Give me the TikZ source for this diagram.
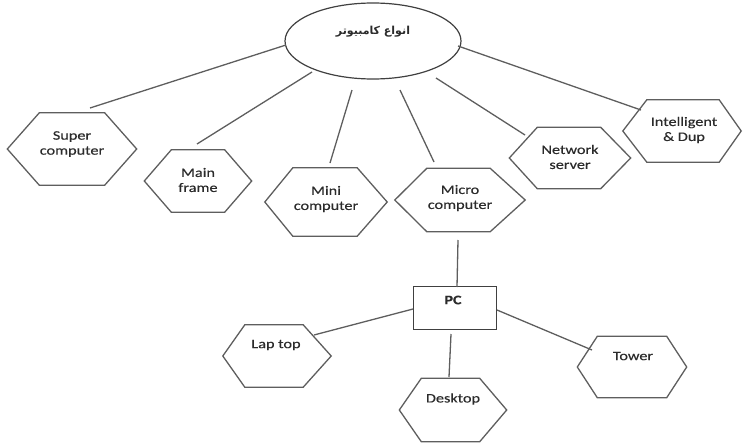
\documentclass[tikz,border=0pt]{standalone}
\usepackage{fontspec}
\setmainfont{Carlito}
\newfontfamily\widefont[FakeStretch=1.25,FakeBold=0.4]{Carlito}
\newfontfamily\arabicfont[Script=Arabic]{DejaVu Sans}
\TeXXeTstate=1
\usetikzlibrary{shapes.geometric}
\definecolor{edgegray}{HTML}{5E5E5E}
\definecolor{inkgray}{HTML}{2B2B2B}
\tikzset{
  hexcell/.style={rectangle, draw=none, inner sep=0pt},
  hexline/.style={draw=edgegray, line width=1.3pt, line join=miter},
  hextext/.style={font=\widefont\fontsize{13}{15}\selectfont, text=inkgray, align=center, inner sep=0pt},
  link/.style={draw=edgegray, line width=1.3pt},
  rootshape/.style={ellipse, draw=inkgray!90, line width=1.2pt, inner sep=0pt,
                    minimum width=176pt, minimum height=76pt},
  pcbox/.style={rectangle, draw=inkgray!90, line width=1.2pt, inner sep=0pt,
                minimum width=83pt, minimum height=43pt}
}
% hexagon outline around a named rectangular cell: #2 = left tip, #3 = right tip
\newcommand\hexoutline[3]{%
  \draw[hexline] (#1.west) -- ([xshift=#2]#1.north west) -- ([xshift=-#3]#1.north east)
    -- (#1.east) -- ([xshift=-#3]#1.south east) -- ([xshift=#2]#1.south west) -- cycle;}
\begin{document}
\begin{tikzpicture}[x=1pt, y=-1pt]
\useasboundingbox (0,0) rectangle (744,442);

% root
\node[rootshape] (root) at (373,41) {};
\node[font=\arabicfont\bfseries\fontsize{11}{13}\selectfont, text=inkgray] (root-t) at (373,32) {\beginR انواع كامبيوتر\endR};

% first level
\node[hexcell, minimum width=129pt, minimum height=72pt] (sup) at (72,149) {};
\hexoutline{sup}{32pt}{32pt}
\node[hextext] (sup-t) at (72,144) {Super\\computer};

\node[hexcell, minimum width=107pt, minimum height=62pt] (mainf) at (198,181) {};
\hexoutline{mainf}{27pt}{27pt}
\node[hextext] (mainf-t) at (198,180) {Main\\frame};

\node[hexcell, minimum width=122pt, minimum height=68pt] (mini) at (326,202) {};
\hexoutline{mini}{28pt}{30pt}
\node[hextext] (mini-t) at (326,199) {Mini\\computer};

\node[hexcell, minimum width=130pt, minimum height=63pt] (micro) at (460,200) {};
\hexoutline{micro}{32pt}{35pt}
\node[hextext] (micro-t) at (460,198) {Micro\\computer};

\node[hexcell, minimum width=121pt, minimum height=61pt] (net) at (570,158) {};
\hexoutline{net}{28pt}{30pt}
\node[hextext] (net-t) at (570,157) {Network\\server};

\node[hexcell, minimum width=118pt, minimum height=62pt] (intel) at (682,131) {};
\hexoutline{intel}{24pt}{22pt}
\node[hextext] (intel-t) at (684,130) {Intelligent\\\& Dup};

% PC branch
\node[pcbox] (pc) at (455,308) {};
\node[font=\bfseries\widefont\fontsize{13}{15}\selectfont, text=inkgray] (pc-t) at (453,300) {PC};

\node[hexcell, minimum width=108pt, minimum height=62pt] (lap) at (277,356) {};
\hexoutline{lap}{22pt}{28pt}
\node[hextext] (lap-t) at (276,345) {Lap top};

\node[hexcell, minimum width=107pt, minimum height=63pt] (desk) at (453,410) {};
\hexoutline{desk}{22pt}{27pt}
\node[hextext] (desk-t) at (453,399) {Desktop};

\node[hexcell, minimum width=109pt, minimum height=61pt] (tower) at (632,367) {};
\hexoutline{tower}{20pt}{20pt}
\node[hextext] (tower-t) at (633,356) {Tower};

% connector ends
\coordinate (r1) at (286,45);  \coordinate (h1) at (90,108);
\coordinate (r2) at (312,72);  \coordinate (h2) at (197,144);
\coordinate (r3) at (352,90);  \coordinate (h3) at (330,163);
\coordinate (r4) at (400,90);  \coordinate (h4) at (434,162);
\coordinate (r5) at (436,78);  \coordinate (h5) at (525,135);
\coordinate (r6) at (458,46);  \coordinate (h6) at (641,110);
\coordinate (m1) at (458,240); \coordinate (p1) at (457,287);
\coordinate (p2) at (413,309); \coordinate (l1) at (314,335);
\coordinate (p3) at (451,334); \coordinate (d1) at (449,377);
\coordinate (p4) at (497,310); \coordinate (t1) at (592,350);

\draw[link] (r1) -- (h1);
\draw[link] (r2) -- (h2);
\draw[link] (r3) -- (h3);
\draw[link] (r4) -- (h4);
\draw[link] (r5) -- (h5);
\draw[link] (r6) -- (h6);
\draw[link] (m1) -- (p1);
\draw[link] (p2) -- (l1);
\draw[link] (p3) -- (d1);
\draw[link] (p4) -- (t1);
\end{tikzpicture}
\end{document}
